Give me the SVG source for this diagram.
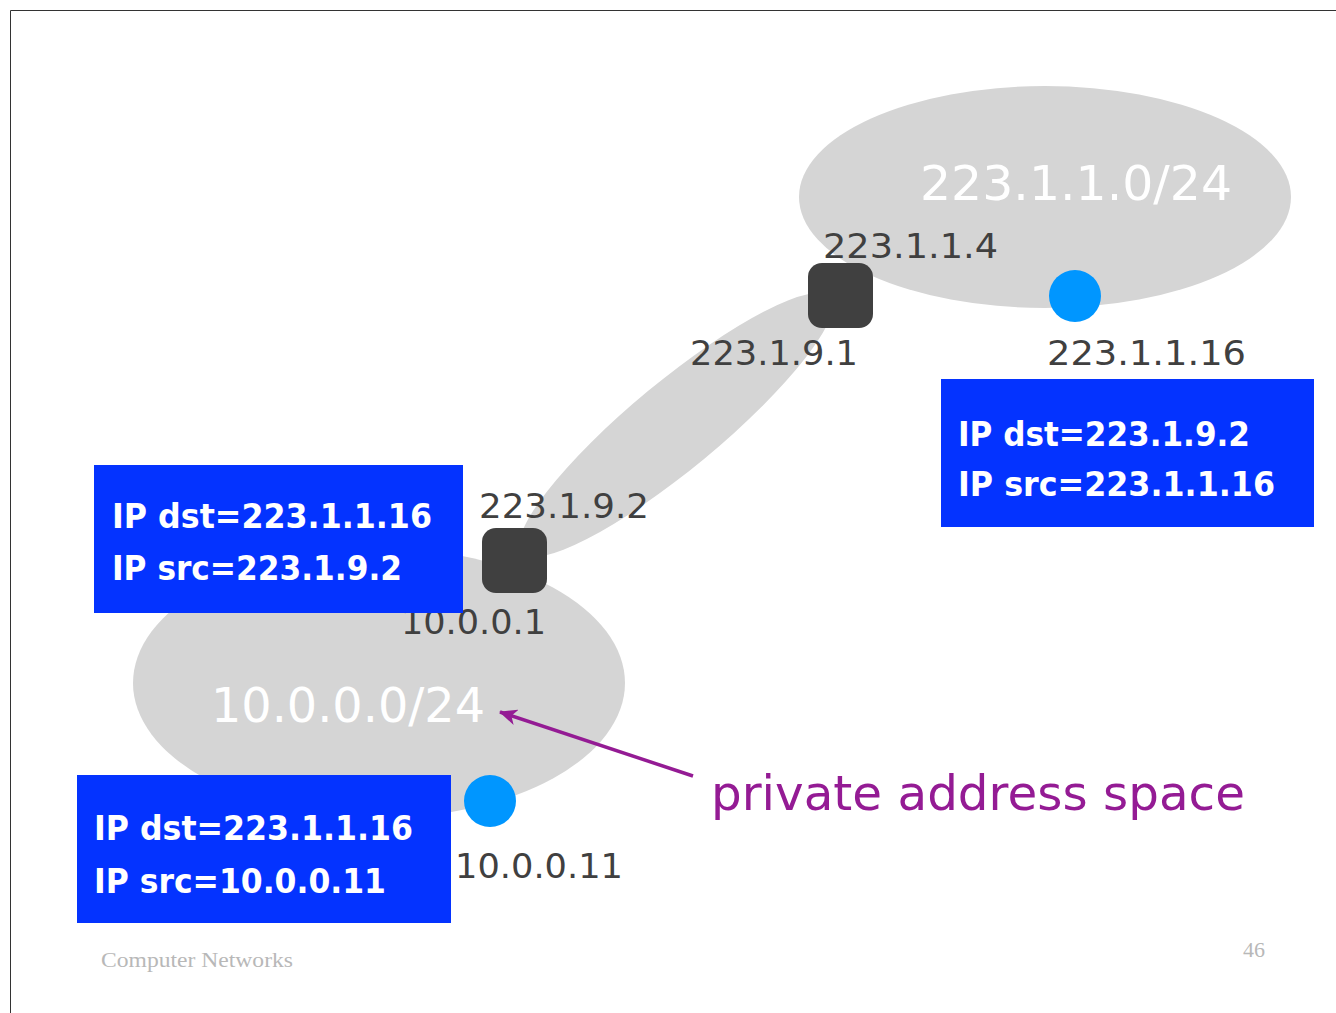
<svg xmlns="http://www.w3.org/2000/svg" width="1336" height="1013" viewBox="0 0 1336 1013">
<style>
.net{fill:#d5d5d5}
.rt{fill:#404040}
.host{fill:#0096ff}
.box{fill:#0433ff}
.lbl{font-family:"DejaVu Sans","Liberation Sans",sans-serif;font-size:34px;fill:#404040}
.bt{font-family:"DejaVu Sans","Liberation Sans",sans-serif;font-size:33px;font-weight:bold;fill:#ffffff}
.nl{font-family:"DejaVu Sans","Liberation Sans",sans-serif;font-size:48px;fill:#ffffff}
.pv{font-family:"DejaVu Sans","Liberation Sans",sans-serif;font-size:48px;fill:#941b94}
.ft{font-family:"Liberation Serif",serif;font-size:22px;fill:#b8b8b8}
</style>
<defs>
<marker id="ah" markerWidth="18" markerHeight="16" refX="17" refY="8" orient="auto" markerUnits="userSpaceOnUse" viewBox="0 0 18 16">
<path d="M0,0 L18,8 L0,16 L5,8 Z" fill="#941b94"/>
</marker>
</defs>
<rect x="0" y="0" width="1336" height="1013" fill="#ffffff"/>
<path d="M10.5,1013 V10.5 H1336" fill="none" stroke="#333" stroke-width="1"/>
<g id="net-223-1-1">
<ellipse class="net" cx="1045" cy="197" rx="246" ry="111"/>
<text class="nl" x="920" y="200" textLength="312" lengthAdjust="spacingAndGlyphs">223.1.1.0/24</text>
</g>
<g id="net-10">
<ellipse class="net" cx="379" cy="683" rx="246" ry="135"/>
<text class="nl" x="211" y="722" textLength="274" lengthAdjust="spacingAndGlyphs">10.0.0.0/24</text>
</g>
<g id="link-223-1-9">
<ellipse class="net" cx="676" cy="425" rx="200" ry="44" transform="rotate(-39.6 676 425)"/>
</g>
<g id="router-top">
<rect class="rt" x="808" y="263" width="65" height="65" rx="14"/>
<text class="lbl" x="823" y="258" textLength="175" lengthAdjust="spacingAndGlyphs">223.1.1.4</text>
<text class="lbl" x="690" y="365" textLength="168" lengthAdjust="spacingAndGlyphs">223.1.9.1</text>
</g>
<g id="router-nat">
<rect class="rt" x="482" y="528" width="65" height="65" rx="14"/>
<text class="lbl" x="479" y="518" textLength="170" lengthAdjust="spacingAndGlyphs">223.1.9.2</text>
<text class="lbl" x="401" y="634" textLength="145" lengthAdjust="spacingAndGlyphs">10.0.0.1</text>
</g>
<g id="host-server">
<circle class="host" cx="1075" cy="296" r="26"/>
<text class="lbl" x="1047" y="365" textLength="199" lengthAdjust="spacingAndGlyphs">223.1.1.16</text>
</g>
<g id="host-private">
<circle class="host" cx="490" cy="801" r="26"/>
<text class="lbl" x="455" y="878" textLength="168" lengthAdjust="spacingAndGlyphs">10.0.0.11</text>
</g>
<g id="pkt-nat-out">
<rect class="box" x="94" y="465" width="369" height="148"/>
<text class="bt" x="112" y="528" textLength="320" lengthAdjust="spacingAndGlyphs">IP dst=223.1.1.16</text>
<text class="bt" x="112" y="580" textLength="290" lengthAdjust="spacingAndGlyphs">IP src=223.1.9.2</text>
</g>
<g id="pkt-server">
<rect class="box" x="941" y="379" width="373" height="148"/>
<text class="bt" x="958" y="446" textLength="292" lengthAdjust="spacingAndGlyphs">IP dst=223.1.9.2</text>
<text class="bt" x="958" y="496" textLength="317" lengthAdjust="spacingAndGlyphs">IP src=223.1.1.16</text>
</g>
<g id="pkt-private">
<rect class="box" x="77" y="775" width="374" height="148"/>
<text class="bt" x="94" y="840" textLength="319" lengthAdjust="spacingAndGlyphs">IP dst=223.1.1.16</text>
<text class="bt" x="94" y="893" textLength="292" lengthAdjust="spacingAndGlyphs">IP src=10.0.0.11</text>
</g>
<g id="connectors">
<line x1="693" y1="776" x2="500" y2="712" stroke="#941b94" stroke-width="3.5" marker-end="url(#ah)"/>
</g>
<g id="annotation">
<text class="pv" x="711" y="810" textLength="534" lengthAdjust="spacingAndGlyphs">private address space</text>
</g>
<g id="footer">
<text class="ft" x="101" y="967" textLength="192" lengthAdjust="spacingAndGlyphs">Computer Networks</text>
<text class="ft" x="1243" y="957">46</text>
</g>
</svg>
